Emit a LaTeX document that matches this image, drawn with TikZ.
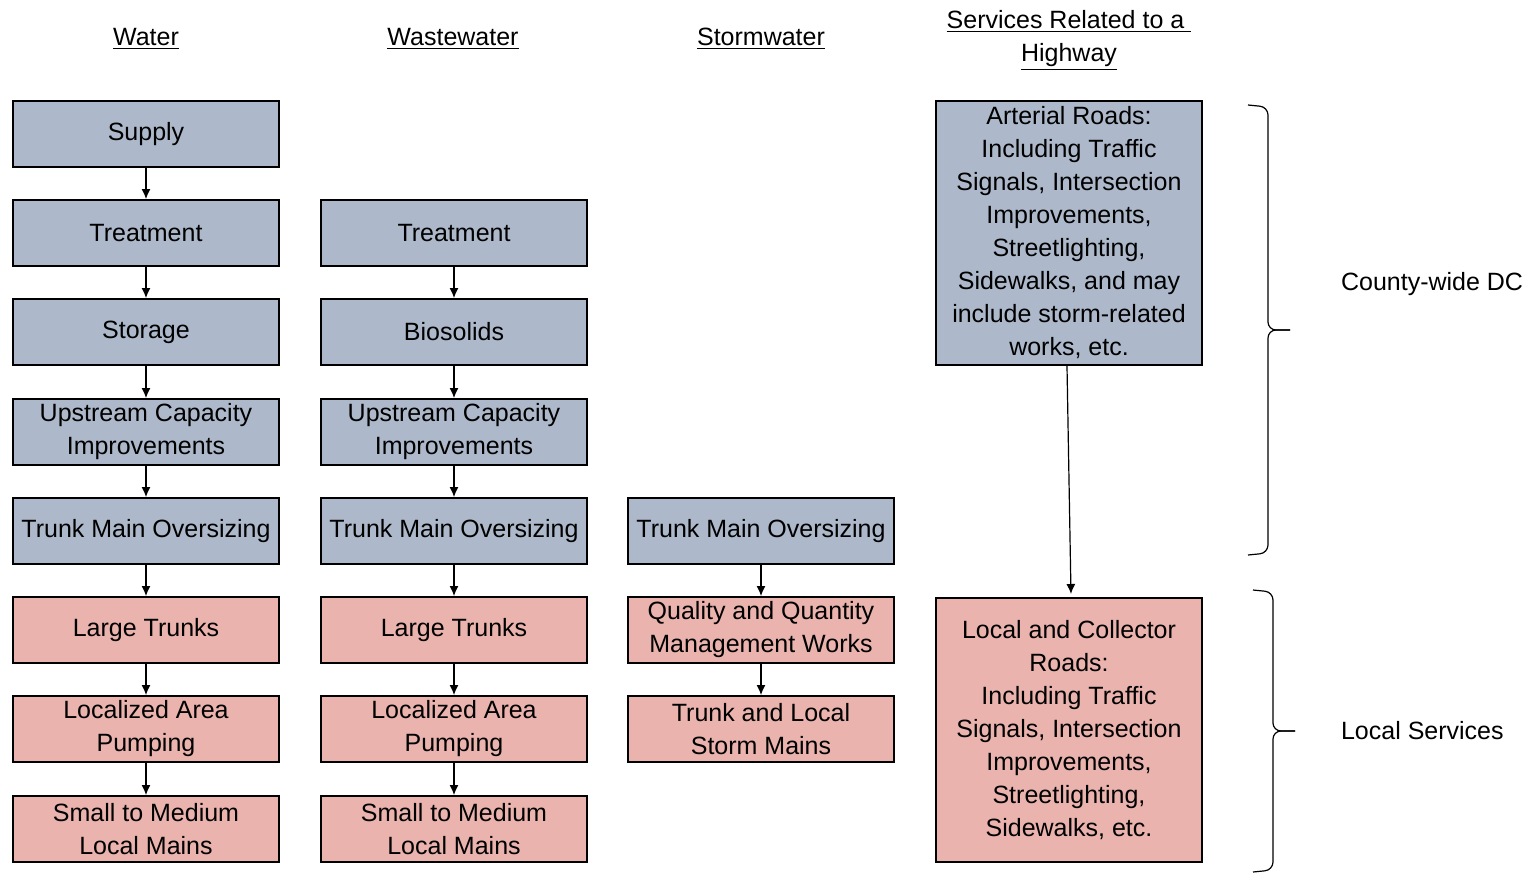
\documentclass[tikz,border=0pt]{standalone}
\usepackage{fontspec}
\setmainfont{Liberation Sans}
\usetikzlibrary{arrows.meta}

\definecolor{capblue}{HTML}{ADB9CA}
\definecolor{locpink}{HTML}{EAB3AD}
\newcommand{\boxfont}{\fontsize{12.5}{16.5}\selectfont}

\tikzset{
  dcbox/.style={draw, line width=1pt, fill=capblue, minimum width=133pt,
    minimum height=33pt, align=center, inner sep=1pt, font=\boxfont},
  locbox/.style={dcbox, fill=locpink},
  head/.style={align=center, anchor=base, font=\boxfont},
  flow/.style={-{Latex[length=5pt,width=4.5pt]}, line width=0.6pt},
  bracket/.style={line width=0.6pt, rounded corners=4pt}
}

\begin{document}
\begin{tikzpicture}[x=0.5pt,y=-0.5pt]
\useasboundingbox (0,0) rectangle (1533,873);

% column heads
  \node[head] (hw) at (146,45) {\underline{Water}};
  \node[head] (hx) at (453,45) {\underline{Wastewater}};
  \node[head] (hs) at (761,45) {\underline{Stormwater}};
  \node[head] (hh) at (1069,61) {\underline{Services Related to a\ }\\\underline{Highway}};

% water
  \node[dcbox] (w1) at (146,134) {Supply};
  \node[dcbox] (w2) at (146,233) {Treatment};
  \node[dcbox] (w3) at (146,332) {Storage};
  \node[dcbox] (w4) at (146,432) {Upstream Capacity\\Improvements};
  \node[dcbox] (w5) at (146,531) {Trunk Main Oversizing};
  \node[locbox] (w6) at (146,630) {Large Trunks};
  \node[locbox] (w7) at (146,729) {Localized Area\\Pumping};
  \node[locbox] (w8) at (146,829) {Small to Medium\\Local Mains};

% wastewater
  \node[dcbox] (x2) at (454,233) {Treatment};
  \node[dcbox] (x3) at (454,332) {Biosolids};
  \node[dcbox] (x4) at (454,432) {Upstream Capacity\\Improvements};
  \node[dcbox] (x5) at (454,531) {Trunk Main Oversizing};
  \node[locbox] (x6) at (454,630) {Large Trunks};
  \node[locbox] (x7) at (454,729) {Localized Area\\Pumping};
  \node[locbox] (x8) at (454,829) {Small to Medium\\Local Mains};

% stormwater
  \node[dcbox] (s5) at (761,531) {Trunk Main Oversizing};
  \node[locbox] (s6) at (761,630) {Quality and Quantity\\Management Works};
  \node[locbox] (s7) at (761,729) {Trunk and Local\\Storm Mains};

% highway
  \node[dcbox, minimum height=132pt] (r1) at (1069,233) {Arterial Roads:\\Including Traffic\\Signals, Intersection\\Improvements,\\Streetlighting,\\Sidewalks, and may\\include storm-related\\works, etc.};
  \node[locbox, minimum height=132pt] (r2) at (1069,730) {Local and Collector\\Roads:\\Including Traffic\\Signals, Intersection\\Improvements,\\Streetlighting,\\Sidewalks, etc.};

  \foreach \a/\b in {w1/w2,w2/w3,w3/w4,w4/w5,w5/w6,w6/w7,w7/w8,
                     x2/x3,x3/x4,x4/x5,x5/x6,x6/x7,x7/x8,s5/s6,s6/s7}
    \draw[flow] (\a.south) -- (\b.north);
  \draw[flow] ([xshift=-1pt]r1.south) -- ([xshift=1pt,yshift=1.5pt]r2.north);

% braces
  \coordinate (b1) at (1248,105);
  \coordinate (b2) at (1248,555);
  \coordinate (t1) at (1290,330);
  \coordinate (b3) at (1253,590);
  \coordinate (b4) at (1253,872);
  \coordinate (t2) at (1295,731);
  \draw[bracket] (b1) -- ++(20,2) |- (t1);
  \draw[bracket] (b2) -- ++(20,-2) |- (t1);
  \draw[bracket] (b3) -- ++(20,2) |- (t2);
  \draw[bracket] (b4) -- ++(20,-2) |- (t2);
  \node[font=\boxfont, anchor=west] (cw) at (1334,284) {County-wide DC};
  \node[font=\boxfont, anchor=west] (ls) at (1334,731) {Local Services};
\end{tikzpicture}
\end{document}
